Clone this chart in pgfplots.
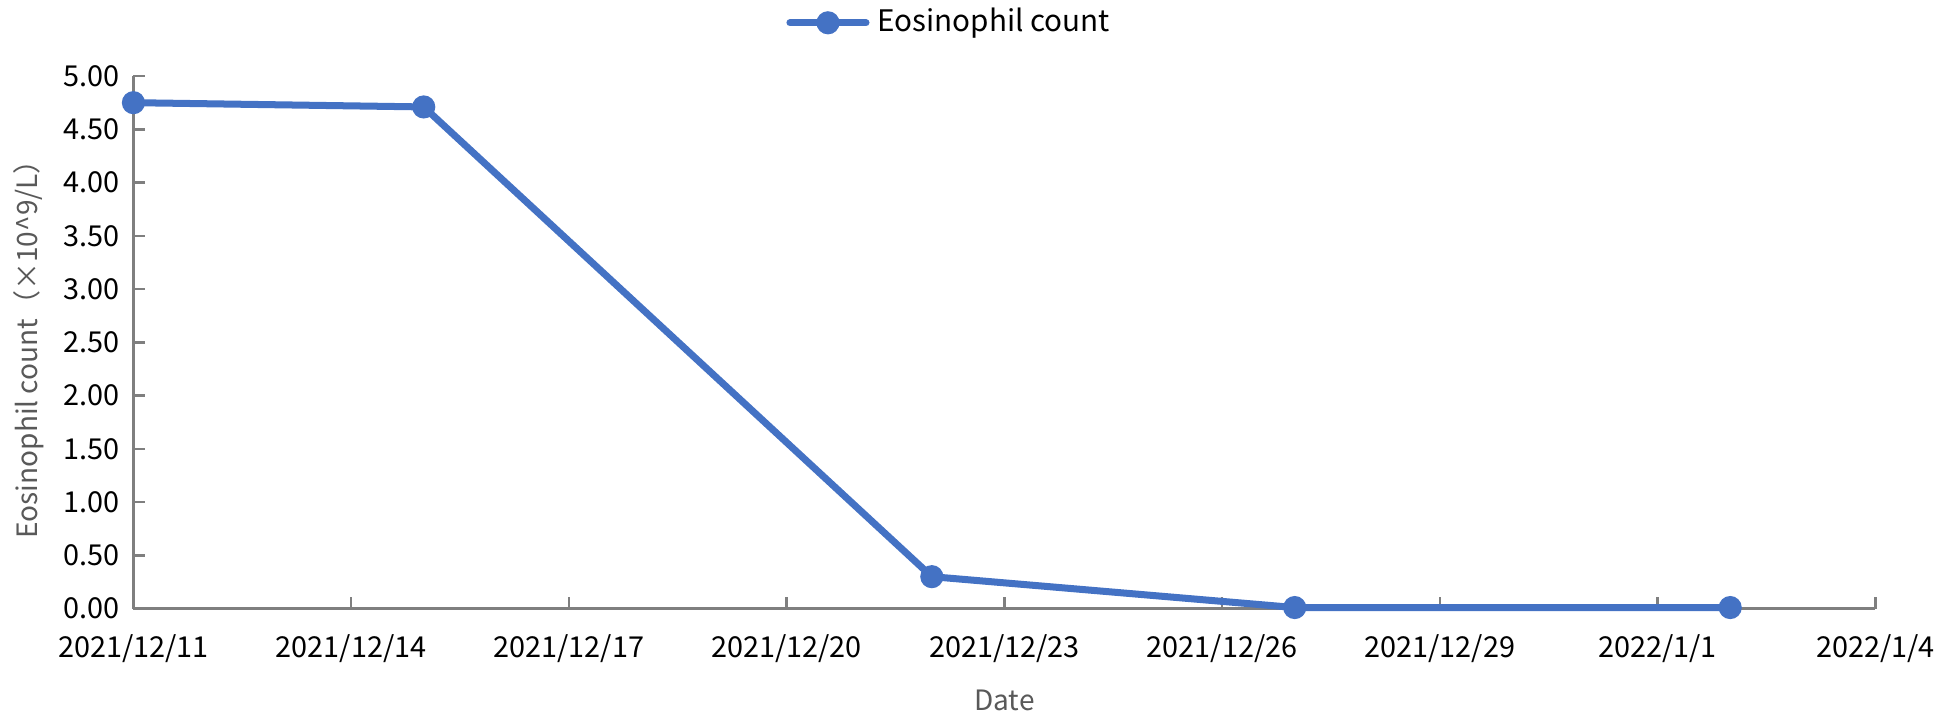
\documentclass[border=0pt]{standalone}
\usepackage{fontspec}
\setmainfont{Noto Sans CJK SC}
\usepackage{pgfplots}
\pgfplotsset{compat=1.18}
\definecolor{serblue}{HTML}{4472C4}
\definecolor{axgray}{HTML}{7F7F7F}
\definecolor{labgray}{HTML}{595959}

\begin{document}
\begin{tikzpicture}
\begin{axis}[
  scale only axis,
  width=435pt, height=133pt,
  xmin=0, xmax=24, ymin=0, ymax=5,
  axis lines*=left,
  axis line style={axgray, line width=0.6pt},
  xtick={0,3,...,24},
  xticklabels={2021/12/11,2021/12/14,2021/12/17,2021/12/20,2021/12/23,2021/12/26,2021/12/29,2022/1/1,2022/1/4},
  ytick={0,0.5,...,5},
  yticklabel style={/pgf/number format/.cd, fixed, fixed zerofill, precision=2},
  /pgf/number format/assume math mode=true,
  tick style={axgray, line width=0.6pt},
  major tick length=3pt,
  tick align=inside,
  tick label style={font=\fontsize{7.2}{8}\selectfont, black},
  xticklabel style={yshift=-3pt},
  xlabel={Date},
  ylabel={Eosinophil count（×10\textasciicircum 9/L）},
  label style={font=\fontsize{7}{8}\selectfont, labgray},
  xlabel style={yshift=0pt},
  ylabel style={yshift=-2pt},
  clip=false,
  legend style={at={(0.47,1.1)}, anchor=center, draw=none, fill=none,
    font=\fontsize{7.4}{8}\selectfont, inner sep=0pt},
  legend image code/.code={
    \draw[serblue, line width=1.75pt, line cap=round] (0pt,0pt) -- (19pt,0pt);
    \fill[serblue] (9.5pt,0pt) circle (2.0pt);
  },
]
\addplot[serblue, line width=1.75pt, mark=*, mark size=2.0pt,
  mark options={fill=serblue, draw=serblue}] coordinates {
  (0,4.75) (4,4.71) (11,0.30) (16,0.01) (22,0.01)
};
\addlegendentry{Eosinophil count}
\end{axis}
\end{tikzpicture}
\end{document}
